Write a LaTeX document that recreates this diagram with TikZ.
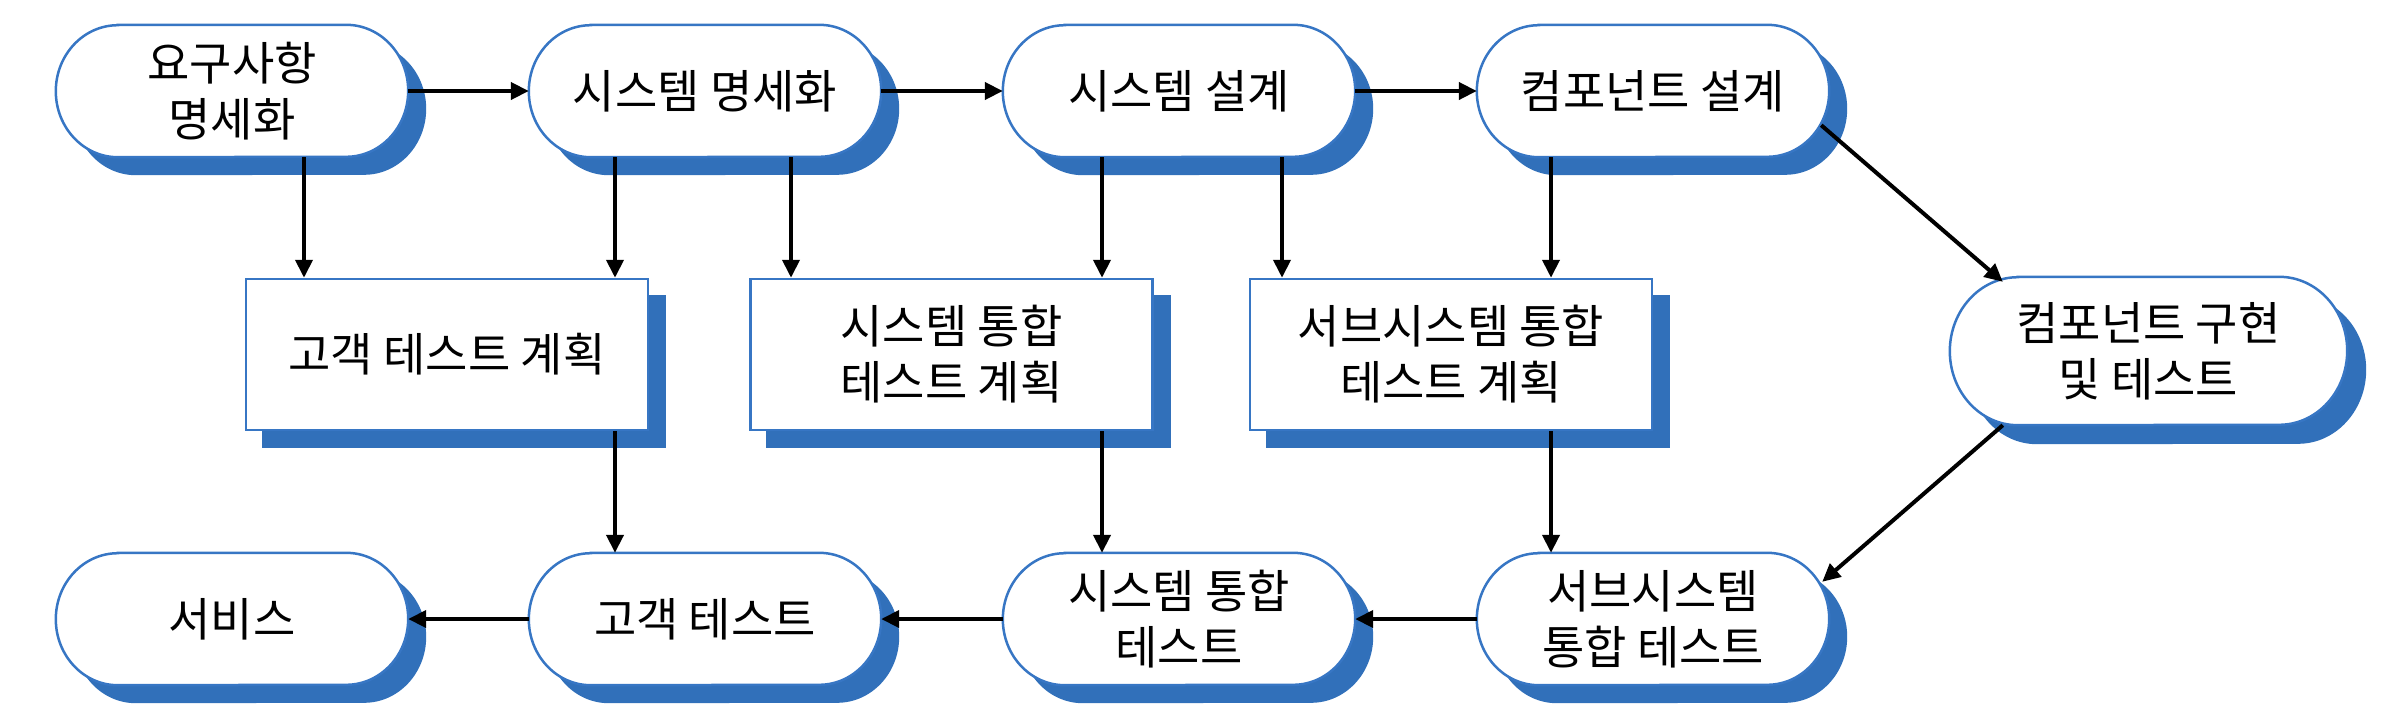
\documentclass[tikz,border=0pt]{standalone}
\usepackage{fontspec}
\setmainfont{Noto Sans CJK KR}
\usetikzlibrary{arrows.meta,calc}
\definecolor{shad}{RGB}{49,112,186}
\definecolor{bord}{RGB}{55,118,196}
\pgfdeclarelayer{bg}\pgfsetlayers{bg,main}
\newcommand\stadpath[4]{([shift={#4},xshift=#2]#1.north west) -- ([shift={#4},xshift=-#2]#1.north east) arc[start angle=90,end angle=-90,x radius=#2,y radius=#3] -- ([shift={#4},xshift=#2]#1.south west) arc[start angle=270,end angle=90,x radius=#2,y radius=#3] -- cycle}
\begin{document}
\begin{tikzpicture}[x=1pt,y=1pt,
  txt/.style={font=\fontsize{46pt}{56pt}\selectfont, align=center, inner sep=0pt},
  stad/.style={txt, minimum width=352pt, minimum height=132pt},
  rbox/.style={txt, draw=bord, line width=2.5pt, fill=white, minimum width=402pt, minimum height=151pt},
  arr/.style={line width=4pt, -{Triangle[length=18pt,width=17pt]}},
]
\useasboundingbox (0,0) rectangle (2390,-726);

\node[stad] (N1) at (232,-91) {요구사항\\명세화};
\node[stad] (N2) at (705,-91) {시스템 명세화};
\node[stad] (N3) at (1179,-91) {시스템 설계};
\node[stad] (N4) at (1653,-91) {컴포넌트 설계};
\node[rbox] (R1) at (447,-354.5) {고객 테스트 계획};
\node[rbox] (R2) at (951.5,-354.5) {시스템 통합\\테스트 계획};
\node[rbox] (R3) at (1451,-354.5) {서브시스템 통합\\테스트 계획};
\node[stad, minimum width=397pt, minimum height=148pt] (C1) at (2148.5,-351) {컴포넌트 구현\\및 테스트};
\node[stad] (B1) at (232,-619) {서비스};
\node[stad] (B2) at (705,-619) {고객 테스트};
\node[stad] (B3) at (1179,-619) {시스템 통합\\테스트};
\node[stad] (B4) at (1653,-619) {서브시스템\\통합 테스트};

\begin{pgfonlayer}{bg}
\foreach \n in {N1,N2,N3,N4,B1,B2,B3,B4} {
  \fill[shad] \stadpath{\n}{62pt}{66pt}{(18,-18)};
  \filldraw[fill=white, draw=bord, line width=2.5pt] \stadpath{\n}{62pt}{66pt}{(0,0)};
}
\fill[shad] \stadpath{C1}{68pt}{74pt}{(19,-19)};
\filldraw[fill=white, draw=bord, line width=2.5pt] \stadpath{C1}{68pt}{74pt}{(0,0)};
\foreach \n in {R1,R2,R3} {
  \fill[shad] ([shift={(17,-17)}]\n.north west) rectangle ([shift={(17,-17)}]\n.south east);
}
\end{pgfonlayer}

\draw[arr] (N1.east) -- (N2.west);
\draw[arr] (N2.east) -- (N3.west);
\draw[arr] (N3.east) -- (N4.west);
\draw[arr] (B2.west) -- (B1.east);
\draw[arr] (B3.west) -- (B2.east);
\draw[arr] (B4.west) -- (B3.east);

\draw[arr] ([xshift=72pt]N1.south) -- ([xshift=-143pt]R1.north);
\draw[arr] ([xshift=-90pt]N2.south) -- ([xshift=168pt]R1.north);
\draw[arr] ([xshift=86pt]N2.south) -- ([xshift=-160.5pt]R2.north);
\draw[arr] ([xshift=-77pt]N3.south) -- ([xshift=150.5pt]R2.north);
\draw[arr] ([xshift=103pt]N3.south) -- ([xshift=-169pt]R3.north);
\draw[arr] ([xshift=-102pt]N4.south) -- ([xshift=100pt]R3.north);

\draw[arr] ([xshift=168pt]R1.south) -- ([xshift=-90pt]B2.north);
\draw[arr] ([xshift=150.5pt]R2.south) -- ([xshift=-77pt]B3.north);
\draw[arr] ([xshift=100pt]R3.south) -- ([xshift=-102pt]B4.north);

\draw[arr] ([shift={(-8,32)}]N4.south east) -- ([shift={(53,-5)}]C1.north west);
\draw[arr] ([shift={(53,0)}]C1.south west) -- ([shift={(-7,-29)}]B4.north east);
\end{tikzpicture}
\end{document}
